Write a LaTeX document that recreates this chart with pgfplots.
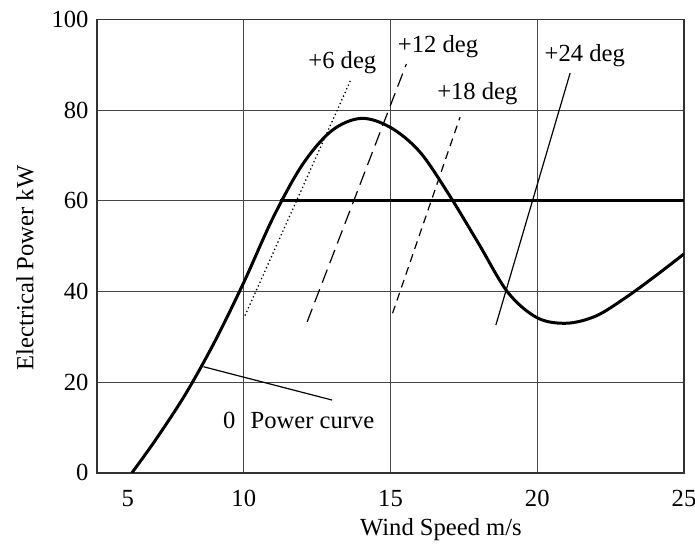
\documentclass[border=0pt]{standalone}
\usepackage{fontspec}
\setmainfont{Liberation Serif}
\usepackage{pgfplots}
\pgfplotsset{compat=1.18}
\begin{document}
\fontsize{12.3bp}{14bp}\selectfont
\begin{tikzpicture}
\begin{axis}[
  scale only axis, width=293.5bp, height=226.6bp,
  xmin=5, xmax=25, ymin=0, ymax=100,
  xtick={10,15,20},
  extra x ticks={6.05,25}, extra x tick labels={5,25},
  extra tick style={grid=none},
  ytick={0,20,...,100},
  xmajorgrids, ymajorgrids,
  major grid style={black!72, line width=0.6bp},
  major tick length=0,
  axis line style={black!80, line width=0.7bp},
  /pgf/number format/assume math mode=true,
  xticklabel style={yshift=-4.5bp},
  xlabel={Wind Speed m/s},
  ylabel={Electrical Power kW},
  xlabel style={at={(axis description cs:0.586,0)}, anchor=center, yshift=-28.5bp},
  ylabel style={at={(axis description cs:-0.1227,0.452)}, anchor=center, rotate=0},
]
% power curve at zero pitch
\addplot[black, line width=1.5bp, smooth, tension=0.55] coordinates {
  (6.19,0) (7,7.3) (8,17.2) (9,28.8) (10,42.0) (11,56.3) (12,68.0)
  (13,75.5) (14,78.2) (15,76.2) (16,70.8) (17,61.3) (18,50.6) (19,39.8)
  (20,34.2) (21,33.0) (22,34.6) (23,38.6) (24,43.3) (25,48.3)
};
% rated power
\addplot[black, line width=1.5bp] coordinates {(11.25,60) (25,60)};
% pitched-blade curves
\addplot[black, line width=0.9bp, line cap=round, dash pattern=on 0bp off 2bp]
  coordinates {(10.05,34.8) (13.64,86.6)};
\addplot[black, line width=0.6bp, dash pattern=on 7bp off 3.5bp]
  coordinates {(12.16,33.3) (15.54,90.2)};
\addplot[black, line width=0.6bp, dash pattern=on 4bp off 2.8bp]
  coordinates {(15.07,35.2) (17.37,78.5)};
\addplot[black, line width=0.6bp] coordinates {(18.59,32.6) (21.12,88.2)};
% leader to the label
\addplot[black, line width=0.6bp] coordinates {(8.63,23.4) (13.01,16.05)};

\node at (axis cs:13.36,90.5) {+6 deg};
\node at (axis cs:16.62,94.0) {+12 deg};
\node at (axis cs:17.96,83.6) {+18 deg};
\node at (axis cs:21.62,92.0) {+24 deg};
\node at (axis cs:9.51,11.6) {0};
\node[anchor=west, inner sep=0pt] at (axis cs:10.22,11.6) {Power curve};
\end{axis}
\pgfresetboundingbox
\path[use as bounding box]
  ([shift={(-48.5bp,-36.2bp)}]current axis.south west) rectangle
  ([shift={(5.5bp,9.8bp)}]current axis.north east);
\end{tikzpicture}
\end{document}
